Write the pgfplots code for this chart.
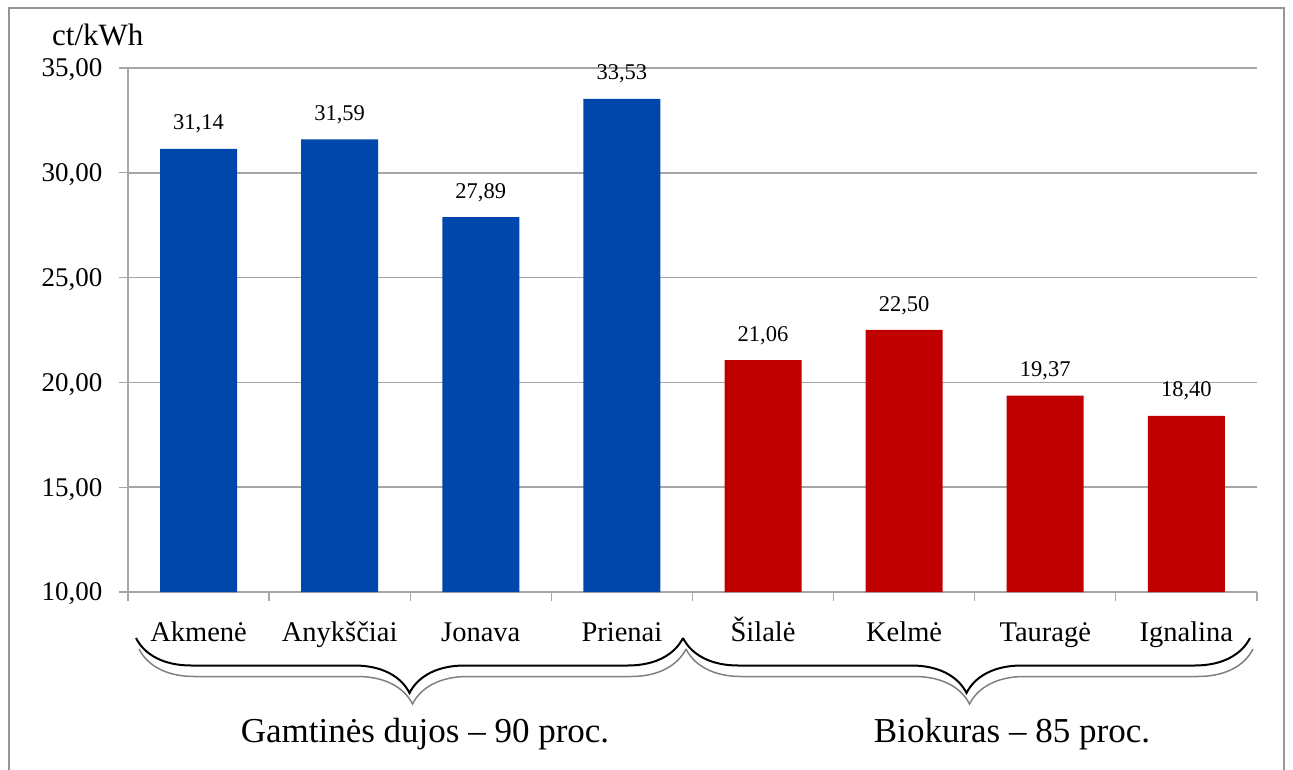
\documentclass[border=0pt]{standalone}
\usepackage{fontspec}
\setmainfont{Liberation Serif}
\usepackage{pgfplots}
\pgfplotsset{compat=1.18}
\usetikzlibrary{decorations.pathreplacing}
\definecolor{barblue}{RGB}{0,71,171}
\definecolor{barred}{RGB}{192,0,0}
\definecolor{gridgray}{RGB}{166,166,166}
\definecolor{framegray}{RGB}{150,150,150}
\begin{document}
\begin{tikzpicture}[x=1pt,y=1pt]
\useasboundingbox (0,0) rectangle (1293,769);
\draw[framegray, line width=2.5pt] (9,-5) -- (9,761) -- (1284,761) -- (1284,-5);
\begin{axis}[
  at={(128pt,177pt)}, anchor=south west,
  scale only axis, width=1129pt, height=524pt,
  xmin=-0.5, xmax=7.5, ymin=10, ymax=35,
  clip=false,
  axis x line*=bottom, axis y line*=left,
  axis line style={gridgray, line width=1.3pt},
  ymajorgrids, grid style={gridgray, line width=1.5pt},
  tick align=outside,
  tick style={gridgray, line width=1.3pt},
  major tick length=9pt,
  ytick={10,15,...,35},
  xtick={-0.5,0.5,...,7.5},
  xticklabels={},
  extra x ticks={0,1,...,7},
  extra x tick labels={Akmenė,Anykščiai,Jonava,Prienai,Šilalė,Kelmė,Tauragė,Ignalina},
  extra x tick style={major tick length=0pt},
  x tick label style={font=\fontsize{28.5}{30}\selectfont, anchor=base, yshift=-49pt},
  y tick label style={font=\fontsize{27}{28}\selectfont, xshift=-13pt, yshift=-2pt},
  /pgf/number format/.cd, fixed, fixed zerofill, precision=2, use comma, assume math mode=true,
  /pgfplots/.cd,
  nodes near coords,
  nodes near coords style={font=\fontsize{22.5}{24}\selectfont, anchor=south, yshift=12pt,
    /pgf/number format/.cd, fixed, fixed zerofill, precision=2, use comma, assume math mode=true},
]
\addplot[ybar, bar shift=0pt, bar width=77pt, fill=barblue, draw=none]
  coordinates {(0,31.14) (1,31.59) (2,27.89) (3,33.53)};
\addplot[ybar, bar shift=0pt, bar width=77pt, fill=barred, draw=none]
  coordinates {(4,21.06) (5,22.50) (6,19.37) (7,18.40)};
\end{axis}
% braces (shadow then line)
\draw[gray, line width=1.5pt, decorate, decoration={brace, mirror, amplitude=55pt}] (139,120) -- (686,120);
\draw[gray, line width=1.5pt, decorate, decoration={brace, mirror, amplitude=55pt}] (686,120) -- (1253,120);
\draw[black, line width=2pt, decorate, decoration={brace, mirror, amplitude=55pt}] (136,131) -- (683,131);
\draw[black, line width=2pt, decorate, decoration={brace, mirror, amplitude=55pt}] (683,131) -- (1250,131);
\node[anchor=base, font=\fontsize{35}{36}\selectfont] at (425,27) {Gamtinės dujos – 90 proc.};
\node[anchor=base, font=\fontsize{35}{36}\selectfont] at (1012,27) {Biokuras – 85 proc.};
\node[anchor=base west, inner sep=0pt, font=\fontsize{31}{32}\selectfont] at (52,723) {ct/kWh};
\end{tikzpicture}
\end{document}
